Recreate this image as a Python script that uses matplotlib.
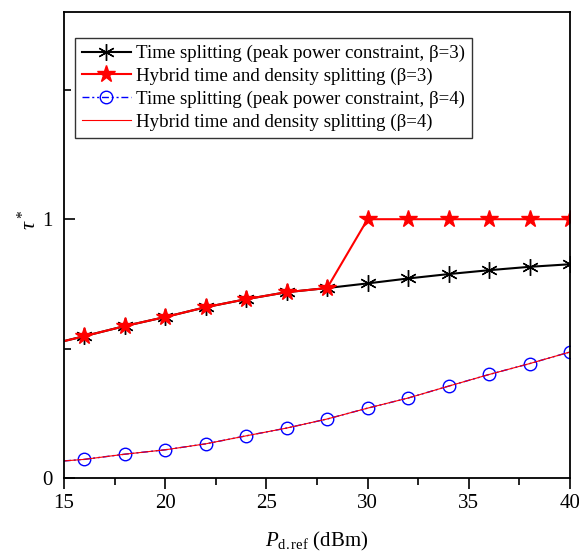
import numpy as np
import matplotlib
matplotlib.use("Agg")
import matplotlib.pyplot as plt

plt.rcParams["font.family"] = ["Liberation Serif", "DejaVu Serif"]
plt.rcParams["mathtext.fontset"] = "custom"
plt.rcParams["mathtext.rm"] = "Liberation Serif"
plt.rcParams["mathtext.it"] = "Liberation Serif:italic"

# transmit power (dBm)
p_ref = [15, 16, 18, 20, 22, 24, 26, 28, 30, 32, 34, 36, 38, 40]

# optimal time fraction tau*
ts_b3 = [0.529, 0.548, 0.587, 0.622, 0.660, 0.691, 0.718, 0.734, 0.752, 0.771, 0.788, 0.803, 0.816, 0.826]
hy_b3 = [0.529, 0.548, 0.587, 0.622, 0.660, 0.691, 0.718, 0.734, 1.0, 1.0, 1.0, 1.0, 1.0, 1.0]
ts_b4 = [0.066, 0.072, 0.092, 0.109, 0.132, 0.163, 0.193, 0.228, 0.270, 0.309, 0.355, 0.400, 0.442, 0.487]
hy_b4 = ts_b4

labels = [
    "Time splitting (peak power constraint, \u03b2=3)",
    "Hybrid time and density splitting (\u03b2=3)",
    "Time splitting (peak power constraint, \u03b2=4)",
    "Hybrid time and density splitting (\u03b2=4)",
]

fig = plt.figure(figsize=(5.79, 5.53), dpi=100)
ax = fig.add_axes([0.1105, 0.1356, 0.874, 0.8424])

mark = list(range(1, len(p_ref)))

ax.plot(p_ref, ts_b3, color="black", lw=1.5, marker=(6, 2, 0), ms=12,
        mew=1.0, markevery=mark, label=labels[0])
ax.plot(p_ref, hy_b3, color="red", lw=1.5, marker="*", ms=13,
        markevery=mark, label=labels[1])
ax.plot(p_ref, ts_b4, color="blue", lw=1.0, dashes=(5, 2, 1.5, 2, 1.5, 2),
        marker="o", ms=9, mfc="none", mec="blue", mew=1.0,
        markevery=mark, label=labels[2])
ax.plot(p_ref, hy_b4, color="red", lw=0.8, label=labels[3])

ax.set_xlim(15, 40)
ax.set_ylim(0, 1.8)
ax.set_xticks([15, 20, 25, 30, 35, 40])
ax.set_xticks(np.arange(17.5, 40, 5), minor=True)
ax.set_yticks([0, 1])
ax.set_yticks([0.5, 1.5], minor=True)

ax.tick_params(axis="x", which="both", direction="out", labelsize=15, width=1.2)
ax.tick_params(axis="y", which="both", direction="in", labelsize=15, width=1.2, pad=8)
ax.tick_params(which="major", length=8)
ax.tick_params(which="minor", length=5)
for s in ax.spines.values():
    s.set_linewidth(1.3)

ax.set_xlabel(r"$P_{\mathrm{d.ref}}$ (dBm)", fontsize=15, labelpad=12)
ax.set_ylabel(r"$\tau^*$", fontsize=16)
ax.yaxis.set_label_coords(-0.045, 0.554)

leg = ax.legend(loc="upper left", bbox_to_anchor=(0.0217, 0.944), fontsize=13.6,
                frameon=True, fancybox=False, edgecolor="black",
                handlelength=2.6, borderpad=0.35, labelspacing=0.3,
                handletextpad=0.3, borderaxespad=0.0)
leg.get_frame().set_linewidth(1.0)

fig.savefig("out.png", dpi=100)
